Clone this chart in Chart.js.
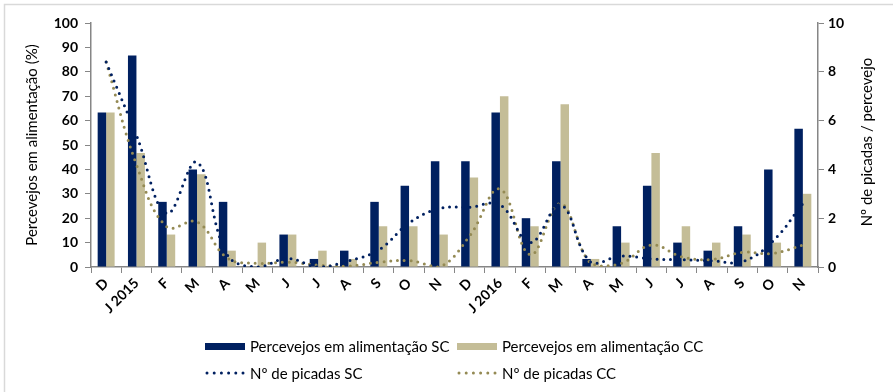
<!DOCTYPE html>
<html>
<head>
<meta charset="utf-8">
<script src="https://cdn.jsdelivr.net/npm/chart.js@4.4.1/dist/chart.umd.min.js"></script>
<style>
  html, body { margin: 0; padding: 0; background: #fff; }
  #wrap { position: relative; width: 893px; height: 392px; }
</style>
</head>
<body>
<div id="wrap"><canvas id="c" width="893" height="392"></canvas></div>
<script>
// Months from December 2014 to November 2016
const months = ['D', 'J 2015', 'F', 'M', 'A', 'M', 'J', 'J', 'A', 'S', 'O', 'N',
                'D', 'J 2016', 'F', 'M', 'A', 'M', 'J', 'J', 'A', 'S', 'O', 'N'];

// Percentage of bugs feeding (left axis)
const feedingSC = [63.3, 86.7, 26.7, 40, 26.7, 0, 13.3, 3.3, 6.7, 26.7, 33.3, 43.3,
                   43.3, 63.3, 20, 43.3, 3.3, 16.7, 33.3, 10, 6.7, 16.7, 40, 56.7];
const feedingCC = [63.3, 46.7, 13.3, 38, 6.7, 10, 13.3, 6.7, 3.3, 16.7, 16.7, 13.3,
                   36.7, 70, 16.7, 66.7, 3.3, 10, 46.7, 16.7, 10, 13.3, 10, 30];

// Number of bites per bug (right axis)
const bitesSC = [8.4, 5.4, 2.2, 4.3, 0.5, 0.0, 0.35, 0.0, 0.25, 0.7, 1.8, 2.4,
                 2.45, 2.55, 1.0, 2.55, 0.2, 0.45, 0.33, 0.3, 0.26, 0.22, 1.05, 2.6];
const bitesCC = [8.4, 4.2, 1.65, 1.85, 0.37, 0.15, 0.2, 0.08, 0.04, 0.19, 0.26, 0.0,
                 1.27, 3.2, 0.5, 2.6, 0.15, 0.15, 0.9, 0.42, 0.31, 0.6, 0.56, 0.9];

const seriesNames = ['Percevejos em alimentação SC', 'Percevejos em alimentação CC',
                     'Nº de picadas SC', 'Nº de picadas CC'];
const leftTitle = 'Percevejos em alimentação (%)';
const rightTitle = 'Nº de picadas / percevejo';

const NAVY = '#002060';
const TAN = '#C4BD97';
const OLIVE = '#948A54';
const AXIS = '#868686';
const FONT = 'Lato, "Liberation Sans", sans-serif';

// Axis titles, frame and two-column legend
const decorations = {
  id: 'decorations',
  afterDraw(chart) {
    const ctx = chart.ctx;
    const area = chart.chartArea;
    ctx.save();

    // outer frame
    ctx.strokeStyle = '#D9D9D9';
    ctx.lineWidth = 1.5;
    ctx.strokeRect(4.5, 4.5, 900, 400);

    // rotated axis titles
    ctx.fillStyle = '#000';
    ctx.font = '15px ' + FONT;
    ctx.textAlign = 'center';
    ctx.textBaseline = 'middle';
    const midY = (area.top + area.bottom) / 2;
    ctx.save();
    ctx.translate(32, midY);
    ctx.rotate(-Math.PI / 2);
    ctx.fillText(leftTitle, 0, 0);
    ctx.restore();
    ctx.save();
    ctx.translate(867, midY - 3);
    ctx.rotate(-Math.PI / 2);
    ctx.fillText(rightTitle, 0, 0);
    ctx.restore();

    // legend
    ctx.textAlign = 'left';
    ctx.textBaseline = 'middle';
    ctx.font = '15px ' + FONT;
    const cols = [205, 457];
    const rows = [346.5, 373];
    const ds = chart.data.datasets;
    // bar swatches
    [0, 1].forEach(i => {
      ctx.fillStyle = ds[i].backgroundColor;
      ctx.fillRect(cols[i], rows[0] - 3.5, 40, 7);
      ctx.fillStyle = '#000';
      ctx.fillText(ds[i].label, cols[i] + 45, rows[0] + 1);
    });
    // dotted line swatches
    [2, 3].forEach((i, k) => {
      ctx.save();
      ctx.strokeStyle = ds[i].borderColor;
      ctx.lineWidth = 3;
      ctx.lineCap = 'round';
      ctx.setLineDash([0, 7.2]);
      ctx.beginPath();
      ctx.moveTo(cols[k] + 2, rows[1]);
      ctx.lineTo(cols[k] + 39, rows[1]);
      ctx.stroke();
      ctx.restore();
      ctx.fillStyle = '#000';
      ctx.fillText(ds[i].label, cols[k] + 45, rows[1] + 1);
    });
    ctx.restore();
  }
};

const lineStyle = {
  type: 'line',
  yAxisID: 'y1',
  borderWidth: 3,
  borderDash: [0, 6.8],
  borderCapStyle: 'round',
  pointRadius: 0,
  pointHoverRadius: 0,
  tension: 0.4,
  fill: false,
  order: 0
};

new Chart(document.getElementById('c'), {
  type: 'bar',
  data: {
    labels: months,
    datasets: [
      { type: 'bar', label: seriesNames[0], data: feedingSC, backgroundColor: NAVY,
        yAxisID: 'y', categoryPercentage: 0.56, barPercentage: 1.0, order: 1 },
      { type: 'bar', label: seriesNames[1], data: feedingCC, backgroundColor: TAN,
        yAxisID: 'y', categoryPercentage: 0.56, barPercentage: 1.0, order: 1 },
      Object.assign({ label: seriesNames[2], data: bitesSC, borderColor: NAVY }, lineStyle),
      Object.assign({ label: seriesNames[3], data: bitesCC, borderColor: OLIVE }, lineStyle)
    ]
  },
  options: {
    responsive: false,
    animation: false,
    devicePixelRatio: 1,
    layout: { padding: { top: 23, left: 0, right: 0, bottom: 0 } },
    plugins: { legend: { display: false }, tooltip: { enabled: false } },
    scales: {
      x: {
        offset: true,
        grid: { display: true, drawOnChartArea: false, drawTicks: true, tickLength: 6,
                color: AXIS, offset: true },
        border: { display: true, color: AXIS, width: 1.5 },
        ticks: { minRotation: 45, maxRotation: 45, autoSkip: false, padding: 2,
                 color: '#000', font: { family: FONT, size: 14, weight: 'bold' } },
        afterFit(s) { s.height = 125; }
      },
      y: {
        position: 'left',
        min: 0, max: 100,
        grid: { display: true, drawOnChartArea: false, drawTicks: true, tickLength: 6, color: AXIS },
        border: { display: true, color: AXIS, width: 1.5 },
        ticks: { stepSize: 10, padding: 7, color: '#000',
                 font: { family: FONT, size: 14, weight: 'bold' } },
        afterFit(s) { s.width = 91; }
      },
      y1: {
        position: 'right',
        min: 0, max: 10,
        grid: { display: true, drawOnChartArea: false, drawTicks: true, tickLength: 6, color: AXIS },
        border: { display: true, color: AXIS, width: 1.5 },
        ticks: { stepSize: 2, padding: 4, color: '#000',
                 font: { family: FONT, size: 14, weight: 'bold' } },
        afterFit(s) { s.width = 75; }
      }
    }
  },
  plugins: [decorations]
});
</script>
</body>
</html>
